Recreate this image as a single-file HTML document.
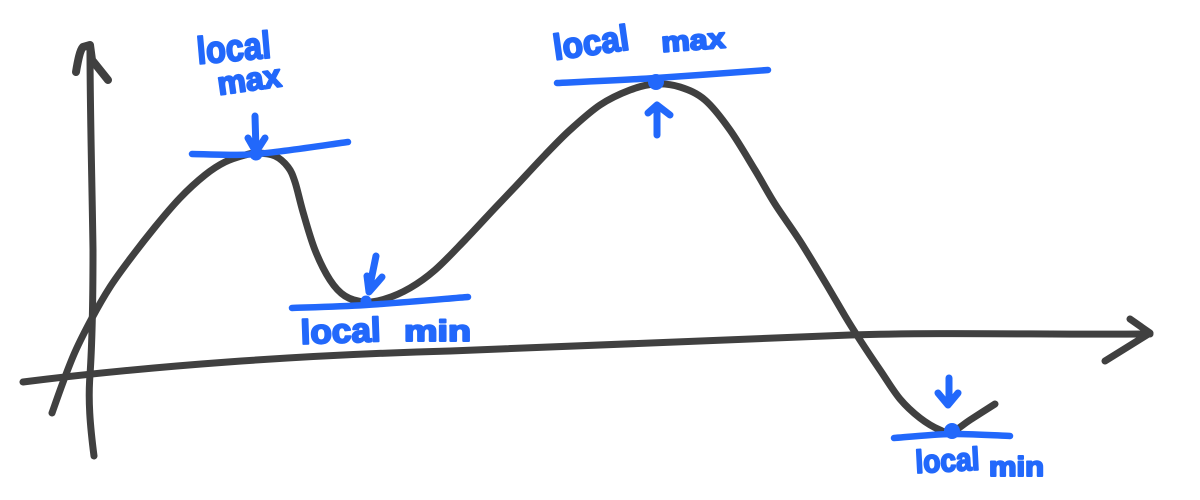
<!DOCTYPE html>
<html lang="en">
<head>
<meta charset="utf-8">
<title>Local maxima and minima sketch</title>
<style>
html,body{margin:0;padding:0;background:#fff;}
svg{display:block;}
.ink{fill:none;stroke:#404040;stroke-width:7;stroke-linecap:round;stroke-linejoin:round;}
.pen{fill:none;stroke:#2268fb;stroke-width:6.5;stroke-linecap:round;stroke-linejoin:round;}
.arrow{stroke-width:7;}
.note{font-family:"Liberation Sans",sans-serif;font-weight:700;fill:#2268fb;stroke:#2268fb;stroke-width:2;stroke-linejoin:round;}
</style>
</head>
<body>
<svg id="chart" width="1200" height="500" viewBox="0 0 1200 500" xmlns="http://www.w3.org/2000/svg">
  <rect width="1200" height="500" fill="#fff"/>
  <path class="ink" d="M23 382 C150 366 300 355 450 351 C600 346 750 340 850 335 C950 332 1050 335 1150 334"/>
  <path class="ink" d="M1130 319 L1150 333 L1105 361"/>
  <path class="ink" d="M94 456 C90 425 88 400 90 375 C92 345 93 300 93 250 C92 180 90 110 90 47"/>
  <path class="ink" style="stroke-width:8" d="M76 72 C78 60 80 50 83 47 L90 45 L92 60 L108 80"/>
  <path class="ink" id="curve"/>
  <g id="tangents"></g>
  <g id="extrema"></g>
  <path class="pen arrow" d="M255 116 L256 151 M248 138 L256 152 L265 138"/>
  <path class="pen arrow" d="M376 256 L369 290 M367 276 L369 292 L382 277"/>
  <path class="pen arrow" d="M657 135 L657 105 M648 113 L657 105 L670 115"/>
  <path class="pen arrow" d="M949 378 L949 403 M938 393 L948 405 L958 393"/>
  <text class="note" x="198" y="64" font-size="38" textLength="74" lengthAdjust="spacingAndGlyphs" transform="rotate(-5 198 64)">local</text>
  <text class="note" x="219" y="95" font-size="32" textLength="64" lengthAdjust="spacingAndGlyphs" transform="rotate(-8 219 95)">max</text>
  <text class="note" x="555" y="60" font-size="36" textLength="76" lengthAdjust="spacingAndGlyphs" transform="rotate(-8 555 60)">local</text>
  <text class="note" x="662" y="52" font-size="28" textLength="64" lengthAdjust="spacingAndGlyphs" transform="rotate(-4 662 52)">max</text>
  <text class="note" x="301" y="344" font-size="34" textLength="80" lengthAdjust="spacingAndGlyphs" transform="rotate(-2 301 344)">local</text>
  <text class="note" x="404" y="341" font-size="30" textLength="67" lengthAdjust="spacingAndGlyphs">min</text>
  <text class="note" x="916" y="473" font-size="32" textLength="64" lengthAdjust="spacingAndGlyphs" transform="rotate(-3 916 473)">local</text>
  <text class="note" x="989" y="476" font-size="28" textLength="55" lengthAdjust="spacingAndGlyphs">min</text>
</svg>
<script>
const curveXValues = [-3.8,-2.8,-1.5,0.2,2,4,6.5,9,11.5,13.5,15.5,16.8,18.5,19.8,20.5,21.3,22.5,24,25.5,27.5,29.5,32,34.5,37.5,40.5,42.5,45.5,48,51,54,56.5,59,61.5,64,66.5,68.5,71,73.5,75.5,77,79,81,83,85,86.2,88,90.5];
const curveYValues = [-4.8,-2,1.3,4.7,7.8,10.6,13.8,16.7,19,20.3,21,21.2,20.9,19.8,18.3,15.3,11.5,8.5,6.9,6.3,6.6,7.7,9.5,12.5,15.7,17.8,21,23.5,26,27.5,28.1,27.8,26.5,23.5,19.5,16.1,12.4,8.3,4.9,2.5,-0.5,-3.4,-5.3,-6.5,-6.7,-5.5,-3.9];
const extremaNames = ['first-max','first-min','second-max','second-min'];
const extremaXValues = [16.6,27.6,56.6,86.2];
const extremaYValues = [21.1,6.4,28.3,-6.6];
const extremaRadii = [6.5,5.5,8,8];
const tangentStartX = [10.2,20.2,46.7,80.4];
const tangentMidX = [16.6,27.6,56.6,86.2];
const tangentEndX = [25.8,37.8,67.8,92];
const tangentStartY = [21.1,5.7,28.2,-7.3];
const tangentMidY = [21.1,6.0,28.7,-6.9];
const tangentEndY = [22.3,6.8,29.5,-7.1];

const NS = 'http://www.w3.org/2000/svg';
function xScale(v){ return 90 + v * 10; }
function yScale(v){ return 365 - v * 10; }

function smoothPath(xs, ys){
  const p = xs.map(function(x, i){ return [xScale(x), yScale(ys[i])]; });
  let d = 'M' + p[0][0] + ' ' + p[0][1];
  for (let i = 0; i < p.length - 1; i++) {
    const a = p[Math.max(i - 1, 0)], b = p[i], c = p[i + 1], e = p[Math.min(i + 2, p.length - 1)];
    const c1x = b[0] + (c[0] - a[0]) / 6, c1y = b[1] + (c[1] - a[1]) / 6;
    const c2x = c[0] - (e[0] - b[0]) / 6, c2y = c[1] - (e[1] - b[1]) / 6;
    d += ' C' + c1x.toFixed(1) + ' ' + c1y.toFixed(1) + ' ' + c2x.toFixed(1) + ' ' + c2y.toFixed(1) + ' ' + c[0].toFixed(1) + ' ' + c[1].toFixed(1);
  }
  return d;
}

document.getElementById('curve').setAttribute('d', smoothPath(curveXValues, curveYValues));

const tangentGroup = document.getElementById('tangents');
const extremaGroup = document.getElementById('extrema');
extremaNames.forEach(function(name, i){
  const line = document.createElementNS(NS, 'path');
  line.setAttribute('class', 'pen');
  
  
  line.setAttribute('d', smoothPath([tangentStartX[i], tangentMidX[i], tangentEndX[i]], [tangentStartY[i], tangentMidY[i], tangentEndY[i]]));
  tangentGroup.appendChild(line);

  const dot = document.createElementNS(NS, 'circle');
  
  
  dot.setAttribute('cx', xScale(extremaXValues[i]));
  dot.setAttribute('cy', yScale(extremaYValues[i]));
  dot.setAttribute('r', extremaRadii[i]);
  dot.setAttribute('fill', '#2268fb');
  extremaGroup.appendChild(dot);
});
</script>
</body>
</html>
